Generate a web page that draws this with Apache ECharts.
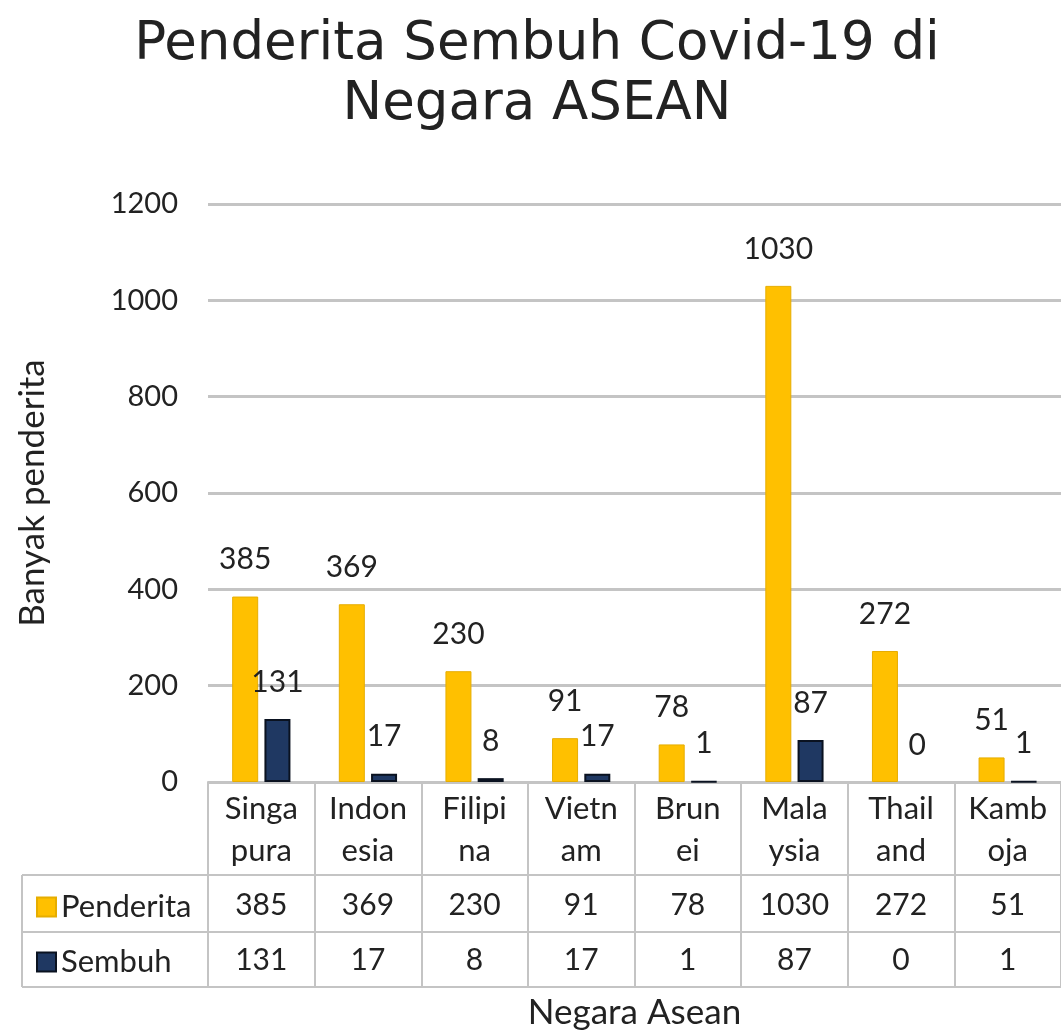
<!DOCTYPE html>
<html>
<head>
<meta charset="utf-8">
<script src="https://cdn.jsdelivr.net/npm/echarts@6/dist/echarts.min.js"></script>
<style>
  html, body { margin: 0; padding: 0; background: #fff; }
  #chart { width: 1061px; height: 1034px; }
</style>
</head>
<body>
<div id="chart"></div>
<script>
const categories = ['Singapura', 'Indonesia', 'Filipina', 'Vietnam', 'Brunei', 'Malaysia', 'Thailand', 'Kamboja']
const categoryLabels = ['Singa\npura', 'Indon\nesia', 'Filipi\nna', 'Vietn\nam', 'Brun\nei', 'Mala\nysia', 'Thail\nand', 'Kamb\noja']
const penderita = [385, 369, 230, 91, 78, 1030, 272, 51]
const sembuh = [131, 17, 8, 17, 1, 87, 0, 1]
const yTicks = [0, 200, 400, 600, 800, 1000, 1200]

const chart = echarts.init(document.getElementById('chart'))
const font = 'Lato'
const textColor = '#222'
const lineColor = '#c4c4c4'

// table lines outside the axes (legend column + row separators)
const hLine = (y, x1) => ({
  type: 'line',
  shape: { x1: x1, y1: y, x2: 1061, y2: y },
  style: { stroke: lineColor, lineWidth: 2 }
})

const option = {
  animation: false,
  title: {
    text: 'Penderita Sembuh Covid-19 di\nNegara ASEAN',
    left: 532,
    textAlign: 'center',
    top: 10,
    textStyle: {
      fontFamily: 'DejaVu Sans',
      fontWeight: 'normal',
      fontSize: 53,
      lineHeight: 60,
      color: textColor
    }
  },
  legend: {
    orient: 'vertical',
    left: 31,
    top: 886,
    itemWidth: 19,
    itemHeight: 19,
    itemGap: 23,
    icon: 'rect',
    data: ['Penderita', 'Sembuh'],
    textStyle: { fontFamily: font, fontSize: 31, lineHeight: 32, color: textColor }
  },
  grid: { left: 208, right: 0, top: 204, bottom: 252, outerBoundsMode: 'none', containLabel: false },
  xAxis: [
    {
      type: 'category',
      data: categories,
      position: 'bottom',
      axisLine: { show: true, lineStyle: { color: lineColor, width: 2 } },
      axisTick: { show: true, length: 205, lineStyle: { color: lineColor, width: 2 } },
      axisLabel: {
        fontFamily: font,
        fontSize: 31,
        lineHeight: 42,
        color: textColor,
        margin: 6,
        interval: 0,
        formatter: (v, i) => categoryLabels[i]
      },
      name: 'Negara Asean',
      nameLocation: 'middle',
      nameGap: 213,
      nameTextStyle: { fontFamily: font, fontSize: 35, color: textColor }
    },
    {
      type: 'category',
      data: categories,
      position: 'bottom',
      offset: 93,
      axisLine: { show: false },
      axisTick: { show: false },
      axisLabel: {
        fontFamily: font, fontSize: 30, color: textColor, margin: 15, interval: 0,
        formatter: (v, i) => String(penderita[i])
      }
    },
    {
      type: 'category',
      data: categories,
      position: 'bottom',
      offset: 150,
      axisLine: { show: false },
      axisTick: { show: false },
      axisLabel: {
        fontFamily: font, fontSize: 30, color: textColor, margin: 13, interval: 0,
        formatter: (v, i) => String(sembuh[i])
      }
    }
  ],
  yAxis: {
    type: 'value',
    min: yTicks[0],
    max: yTicks[yTicks.length - 1],
    interval: 200,
    axisLine: { show: false },
    axisTick: { show: false },
    splitLine: { lineStyle: { color: lineColor, width: 3 } },
    axisLabel: {
      fontFamily: font, fontSize: 29, color: textColor, margin: 30,
      formatter: v => String(v)
    },
    name: 'Banyak penderita',
    nameLocation: 'middle',
    nameGap: 158,
    nameTextStyle: { fontFamily: font, fontSize: 35, color: textColor }
  },
  series: [
    {
      name: 'Penderita',
      type: 'bar',
      data: penderita,
      barWidth: 26,
      barGap: '24%',
      itemStyle: { color: '#ffc000', borderColor: '#e6ad00', borderWidth: 1 },
      label: {
        show: true, position: 'top', distance: 22,
        fontFamily: font, fontSize: 30, color: textColor
      }
    },
    {
      name: 'Sembuh',
      type: 'bar',
      data: sembuh.map(v => (v === 0 ? { value: v, itemStyle: { borderWidth: 0 } } : v)),
      barWidth: 26,
      itemStyle: { color: '#1f3862', borderColor: '#0a1220', borderWidth: 2 },
      label: {
        show: true, position: 'top', distance: 22,
        fontFamily: font, fontSize: 30, color: textColor
      }
    }
  ],
  graphic: [
    hLine(875, 22),
    hLine(932, 22),
    hLine(987, 22),
    {
      type: 'line',
      shape: { x1: 22, y1: 875, x2: 22, y2: 987 },
      style: { stroke: lineColor, lineWidth: 2 }
    }
  ]
}

chart.setOption(option)
</script>
</body>
</html>
